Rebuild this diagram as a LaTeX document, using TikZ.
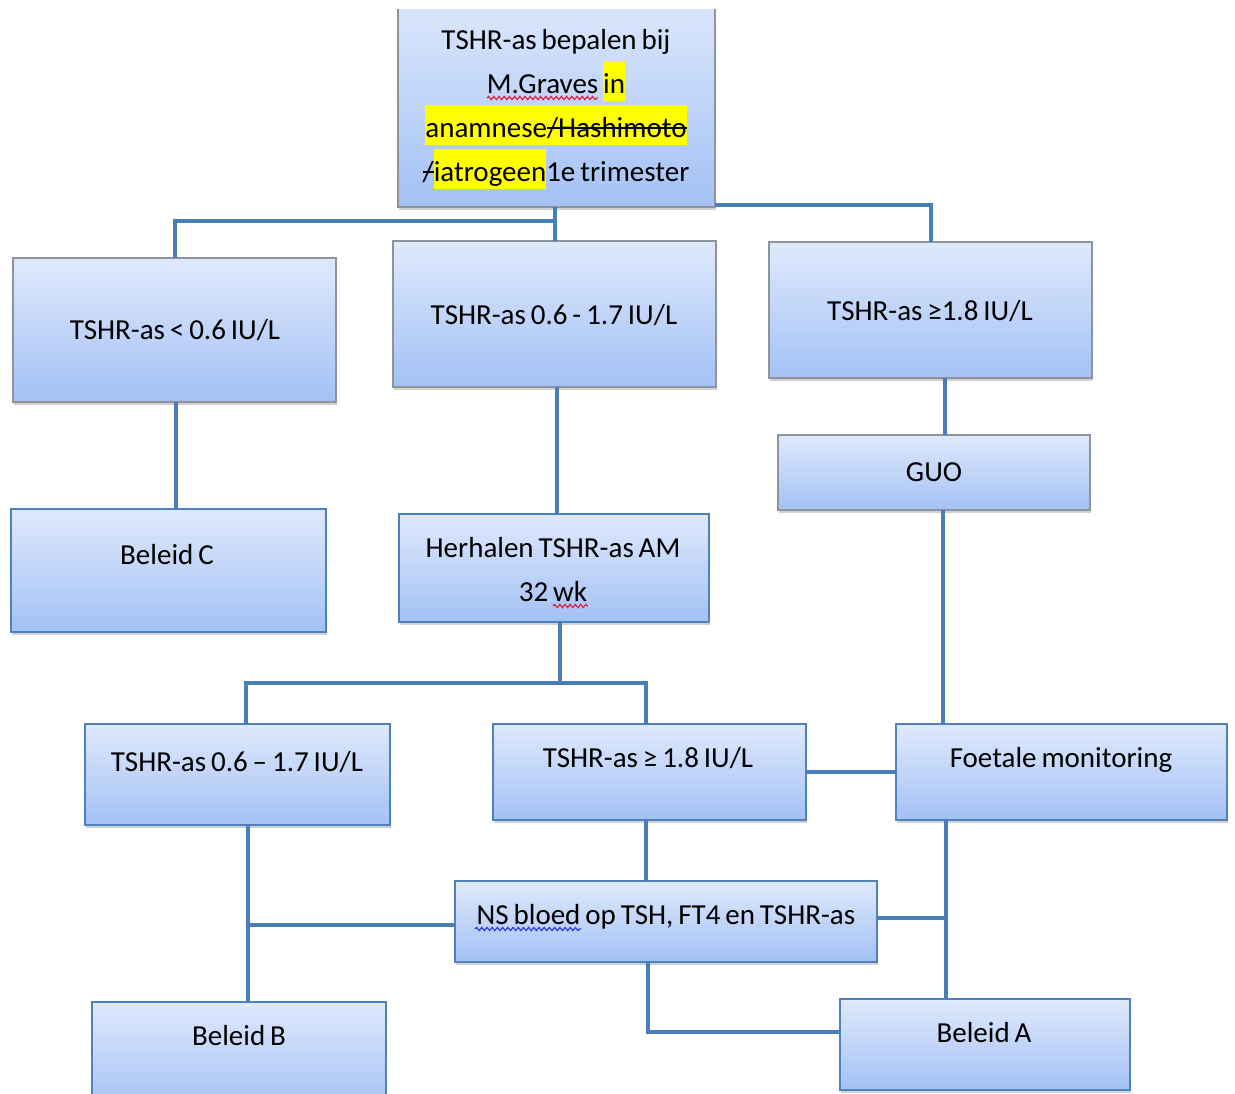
\documentclass[tikz,border=0pt]{standalone}
\usepackage{fontspec}
\setmainfont[WordSpace=0.75]{Carlito}
\usetikzlibrary{shadows,decorations.pathmorphing}
\definecolor{conncol}{HTML}{4A7EBB}
\definecolor{bluebord}{HTML}{4F81BD}
\definecolor{graybord}{HTML}{8F939A}
\definecolor{boxtop}{HTML}{DFE9FC}
\definecolor{boxbot}{HTML}{A3C1F5}
\definecolor{hlyellow}{HTML}{FFFF00}
\definecolor{wavered}{HTML}{E0203A}
\definecolor{waveblue}{HTML}{2F3FD8}
\newcommand\hl[1]{{\setlength\fboxsep{0pt}\colorbox{hlyellow}{\vrule height 16pt depth 4pt width 0pt #1}}}
\newsavebox\strkbox
\newcommand\strk[1]{\sbox\strkbox{#1}\rlap{\rule[0.27em]{\wd\strkbox}{0.07em}}\usebox\strkbox}
\tikzset{
  box/.style={rectangle, inner sep=0pt, outer sep=0pt, anchor=north west,
    top color=boxtop, bottom color=boxbot, line width=1pt,
    drop shadow={shadow xshift=0.6pt, shadow yshift=-1.6pt, opacity=0.3, fill=black!60}},
  gbox/.style={box, draw=graybord},
  bbox/.style={box, draw=bluebord},
  lbl/.style={font=\fontsize{14.5}{22}\selectfont, anchor=base, inner sep=0pt, align=center},
  conn/.style={draw=conncol, line width=2pt},
  wave/.style={line width=0.6pt, decorate, decoration={snake, amplitude=0.8pt, segment length=2.6pt}}
}
\begin{document}
\begin{tikzpicture}[x=0.5pt, y=-0.5pt]
\useasboundingbox (0,0) rectangle (1235,1093);
\clip (0,9) rectangle (1235,1093);
% boxes
\node[gbox, minimum width=158.5pt, minimum height=108.5pt] (top) at (398,-10) {};
\node[gbox, minimum width=161.5pt, minimum height=72pt] (b2) at (13,258) {};
\node[gbox, minimum width=161.5pt, minimum height=73pt] (b3) at (393,241) {};
\node[gbox, minimum width=161.5pt, minimum height=68pt] (b4) at (769,242) {};
\node[gbox, minimum width=156pt, minimum height=37.5pt] (guo) at (778,435) {};
\node[bbox, minimum width=157.5pt, minimum height=61.5pt] (bc) at (11,509) {};
\node[bbox, minimum width=155pt, minimum height=54pt] (hh) at (399,514) {};
\node[bbox, minimum width=152.5pt, minimum height=50.5pt] (b8) at (85,724) {};
\node[bbox, minimum width=156.5pt, minimum height=48pt] (b9) at (493,724) {};
\node[bbox, minimum width=165.5pt, minimum height=48pt] (fm) at (896,724) {};
\node[bbox, minimum width=211pt, minimum height=40.5pt] (ns) at (455,881) {};
\node[bbox, minimum width=147pt, minimum height=54pt] (bb) at (92,1002) {};
\node[bbox, minimum width=145pt, minimum height=45.5pt] (ba) at (840,999) {};
% texts (base = baseline of the last line)
\node[lbl] (ttop) at (556,181) {TSHR-as bepalen bij\\ M.Graves \hl{in}\\ \hl{anamnese\strk{/Hashimoto}}\\ \strk{/}\hl{iatrogeen}1e trimester};
\node[lbl] (tb2) at (175,339) {TSHR-as {<} 0.6 IU/L};
\node[lbl] (tb3) at (554,324) {TSHR-as 0.6 - 1.7 IU/L};
\node[lbl] (tb4) at (930,320) {TSHR-as ≥1.8 IU/L};
\node[lbl] (tguo) at (934,481) {GUO};
\node[lbl] (tbc) at (167,564) {Beleid C};
\node[lbl] (thh) at (553,601) {Herhalen TSHR-as AM\\ 32 wk};
\node[lbl] (tb8) at (237,771) {TSHR-as 0.6 – 1.7 IU/L};
\node[lbl] (tb9) at (648,767) {TSHR-as ≥ 1.8 IU/L};
\node[lbl] (tfm) at (1061,767) {Foetale monitoring};
\node[lbl] (tns) at (666,924) {NS bloed op TSH, FT4 en TSHR-as};
\node[lbl] (tbb) at (239,1045) {Beleid B};
\node[lbl] (tba) at (984,1042) {Beleid A};
% spell-check wavy underlines
\draw[wave, wavered] (487,98) -- (598,98);
\draw[wave, wavered] (553,606) -- (588,606);
\draw[wave, waveblue] (475,929) -- (581,929);
% connectors
\coordinate (j1) at (555,221);
\coordinate (j2) at (715,205);
\coordinate (j3) at (560,683);
\coordinate (j4) at (946,918);
\draw[conn] ([xshift=-0.75pt]top.south) -- ([xshift=-0.75pt]top.south |- b3.north);
\draw[conn] (j1) -| (b2.north);
\draw[conn] (j2) -| (b4.north);
\draw[conn] ([xshift=0.75pt]b2.south) -- ([xshift=0.75pt]b2.south |- bc.north);
\draw[conn] ([xshift=1.25pt]b3.south) -- ([xshift=1.25pt]b3.south |- hh.north);
\draw[conn] ([xshift=7pt]b4.south) -- ([xshift=7pt]b4.south |- guo.north);
\draw[conn] ([xshift=4.5pt]guo.south) -- ([xshift=4.5pt]guo.south |- fm.north);
\draw[conn] ([xshift=3pt]hh.south) -- (j3);
\draw[conn] ([xshift=4.25pt]b8.north) |- (j3) -| ([xshift=-2pt]b9.north);
\draw[conn] (b9.east) -- (fm.west);
\draw[conn] ([xshift=-2pt]b9.south) -- ([xshift=-2pt]b9.south |- ns.north);
\draw[conn] ([xshift=5pt]b8.south) -- ([xshift=5pt]b8.south |- bb.north);
\draw[conn] ([yshift=-1.75pt]ns.west) -- ([yshift=-1.75pt,xshift=5pt]ns.west -| bb.north);
\draw[conn] (ns.east |- j4) -- (j4);
\draw[conn] (fm.south -| j4) -- (ba.north -| j4);
\draw[conn] ([xshift=-9pt]ns.south) |- ([yshift=6.5pt]ba.west);
\end{tikzpicture}
\end{document}
